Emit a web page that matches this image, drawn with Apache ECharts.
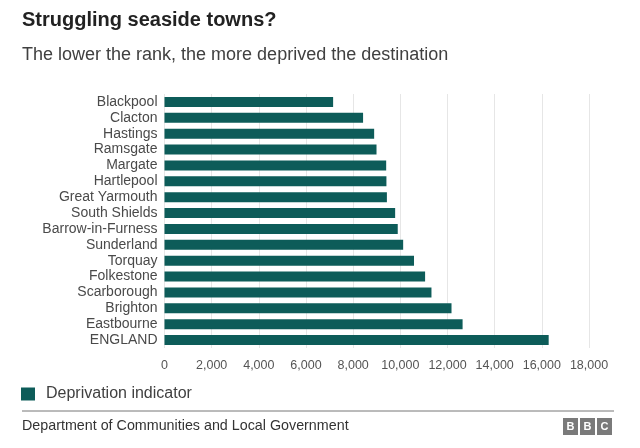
<!DOCTYPE html>
<html><head><meta charset="utf-8">
<script src="https://cdn.jsdelivr.net/npm/echarts@6/dist/echarts.min.js"></script>
<style>html,body{margin:0;padding:0;background:#fff}#c{width:640px;height:448px}</style>
</head><body><div id="c"></div>
<script>
var categories = ["Blackpool","Clacton","Hastings","Ramsgate","Margate","Hartlepool","Great Yarmouth","South Shields","Barrow-in-Furness","Sunderland","Torquay","Folkestone","Scarborough","Brighton","Eastbourne","ENGLAND"];
var values = [7150,8420,8890,8990,9400,9410,9430,9780,9890,10120,10580,11050,11320,12170,12640,16290];
var seriesName = "Deprivation indicator";
var titleText = "Struggling seaside towns?";
var subtitleText = "The lower the rank, the more deprived the destination";
var sourceText = "Department of Communities and Local Government";
var F = "'Liberation Sans', Arial, sans-serif";
var chart = echarts.init(document.getElementById('c'));
function bbcBox(x, letter){
  return {type:'group', left:x, top:418, children:[
    {type:'rect', shape:{x:0,y:0,width:15,height:17}, style:{fill:'#7a7a7a'}},
    {type:'text', x:7.5, y:8.5, style:{text:letter, fill:'#fff', font:'bold 11px '+F, textAlign:'center', textVerticalAlign:'middle'}}
  ]};
}
chart.setOption({
  animation:false,
  textStyle:{fontFamily:F},
  title:[{text:titleText, left:22, top:10, padding:0, textStyle:{fontSize:20, fontWeight:'bold', color:'#222', fontFamily:F}},
         {text:subtitleText, left:22, top:46, padding:0, textStyle:{fontSize:18, fontWeight:'normal', color:'#404040', fontFamily:F}}],
  legend:{data:[seriesName], left:21, top:386, padding:0, icon:'rect', itemWidth:14, itemHeight:13, itemGap:8,
    textStyle:{fontSize:16, color:'#404040', fontFamily:F, padding:[0,0,0,6]}},
  grid:{left:164.5, right:51, top:94, bottom:100, containLabel:false},
  xAxis:{type:'value', min:0, max:18000, interval:2000,
    axisLine:{show:false}, axisTick:{show:false},
    splitLine:{show:true, lineStyle:{color:'#e6e6e6', width:1}},
    axisLabel:{fontSize:12.5, color:'#555', margin:11, fontFamily:F,
      formatter:function(v){return v.toLocaleString('en-GB');}}},
  yAxis:{type:'category', data:categories, inverse:true,
    axisLine:{show:false}, axisTick:{show:false},
    axisLabel:{interval:0, fontSize:14, lineHeight:15, color:'#4a4a4a', margin:7, fontFamily:F}},
  series:[{name:seriesName, type:'bar', data:values, barWidth:10,
    itemStyle:{color:'#0d5c59'}}],
  graphic:[
    {type:'line', shape:{x1:22, y1:411, x2:614, y2:411}, style:{stroke:'#777', lineWidth:1}},
    {type:'text', left:22, top:419, style:{text:sourceText, font:'14.3px '+F, fill:'#333'}},
    bbcBox(563,'B'), bbcBox(580,'B'), bbcBox(597,'C')
  ]
});
</script></body></html>
